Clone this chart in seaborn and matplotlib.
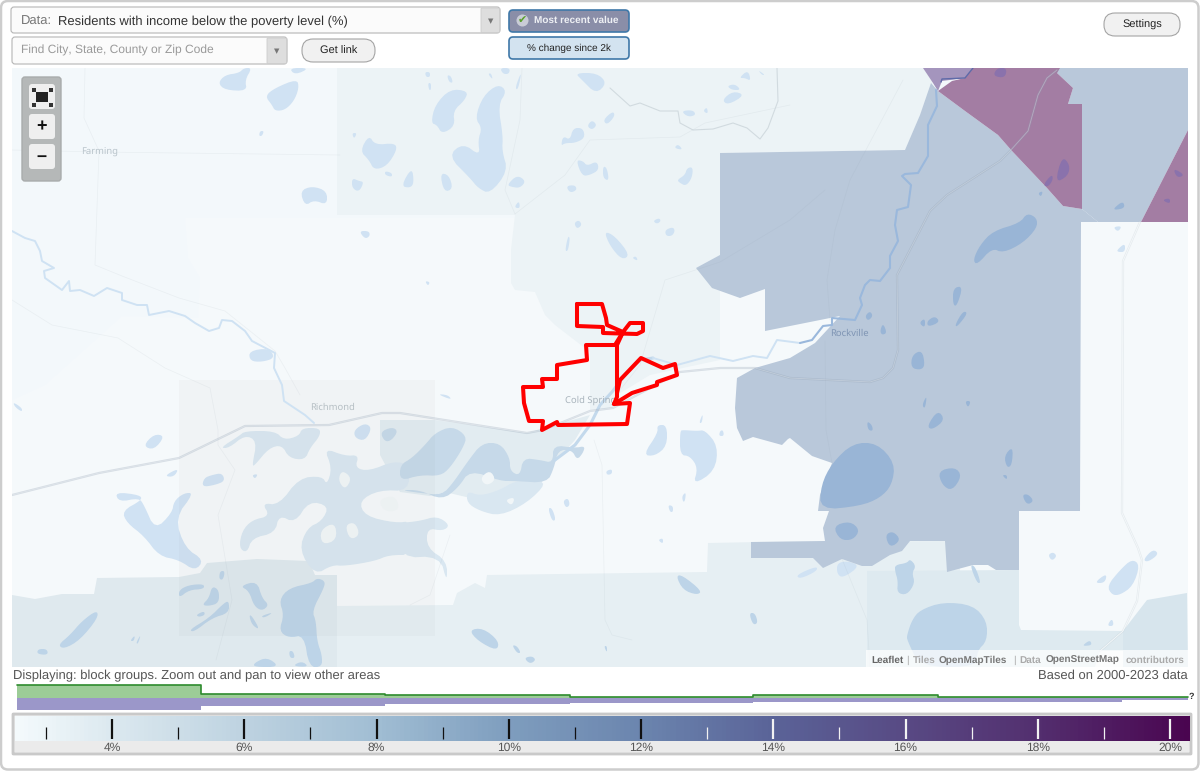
import numpy as np
import pandas as pd
import matplotlib
matplotlib.use("Agg")
import matplotlib.pyplot as plt
from matplotlib.colors import LinearSegmentedColormap
from matplotlib.patches import FancyBboxPatch, Rectangle
import seaborn as sns

# ---------- chart values ----------
scale_stops = [2.52, 4, 6, 8, 10, 12, 14, 16, 18, 20.3]
scale_colors = ["#f4fafc", "#dbe8ef", "#bdd2e0", "#a0bdd3", "#7e9dbe", "#6b85ae", "#5a6398", "#584a84", "#532f6f", "#4a0550"]
major_ticks = [4, 6, 8, 10, 12, 14, 16, 18, 20]
minor_ticks = [3, 5, 7, 9, 11, 13, 15, 17, 19]
hist_edges = [2.565, 5.346, 8.128, 10.926, 13.693, 16.49, 19.27, 20.27]
hist_green = [13, 4, 3, 0.6, 3, 1.5, 1.3]
hist_purple = [12, 8, 6.3, 5, 3.7, 3.7, 2]

title_text = "Residents with income below the poverty level (%)"

# ---------- geography (map outline vertices) ----------
region_pale = [(185,218),(188,258),(200,278),(198,318),(122,316),(45,385),(12,400),(12,667),(1188,667),(1188,218)]
region_north = [(337,68),(923,68),(933,83),(920,115),(905,150),(720,153),(720,360),(650,375),(617,395),(612,408),(590,410),(590,352),(555,325),(545,315),(535,292),(515,290),(511,283),(511,250),(515,215),(337,215)]
region_south_left = [(12,595),(35,599),(62,594),(94,594),(97,578),(179,577),(200,573),(207,563),(257,559),(309,561),(315,575),(337,575),(337,667),(12,667)]
region_south_mid = [(337,606),(453,605),(457,593),(475,583),(485,588),(487,575),(707,572),(708,543),(760,542),(960,541),(960,571),(868,571),(868,667),(337,667)]
region_band = [(867,571),(1019,570),(1019,625),(1021,630),(1123,631),(1123,651),(1100,651),(1095,667),(867,667)]
region_corner = [(1123,631),(1147,600),(1187,593),(1188,667),(1123,667)]
region_chain = [(380,420),(435,420),(527,433),(590,415),(575,440),(555,462),(540,485),(500,505),(445,492),(430,496),(400,492),(380,455)]
region_dark = [(720,153),(905,150),(920,115),(931,83),(938,91),(965,111),(998,135),(1012,151),(1047,188),(1063,206),(1082,209),(1098,222),(1081,222),(1080,511),(1019,511),(1019,570),(996,570),(988,565),(973,565),(947,572),(945,541),(910,541),(902,551),(890,555),(872,566),(862,566),(842,559),(823,568),(813,558),(751,558),(751,542),(825,541),(823,528),(829,511),(818,511),(820,495),(832,463),(812,456),(790,438),(788,439),(782,445),(753,437),(743,441),(737,428),(735,408),(737,378),(755,368),(790,358),(815,343),(840,316),(765,331),(765,289),(740,298),(712,288),(696,268),(720,255)]
region_dark_ne = [(1057,68),(1188,68),(1188,130),(1141,222),(1098,222),(1082,209),(1082,104),(1068,104),(1073,88),(1057,73)]
region_purple = [(973,68),(1060,68),(1057,73),(1073,88),(1068,104),(1082,104),(1082,209),(1063,206),(1047,188),(1012,151),(998,135),(965,111),(938,91),(952,81),(965,78)]
region_purple_far = [(1141,222),(1188,130),(1188,222)]
region_mauve = [(923,68),(973,68),(965,78),(942,81),(938,91),(933,83)]
overlay_block = [(179,380),(435,380),(435,636),(179,636)]

lakes_light = [
 [(218,83),(225,75),(239,73),(244,68),(252,68),(245,80),(247,91),(225,90)],
 [(265,96),(275,88),(297,79),(299,88),(294,101),(285,110),(275,111),(272,105)],
 [(289,68),(295,75),(310,68)],
 [(260,131),(264,131),(262,136),(259,136)],
 [(300,191),(312,186),(327,191),(327,205),(314,200),(305,206)],
 [(360,151),(369,135),(375,145),(395,143),(397,150),(387,166),(374,170),(369,160)],
 [(352,178),(359,181),(364,182),(359,192),(352,188)],
 [(385,171),(392,173),(392,177),(385,175)],
 [(359,231),(369,231),(370,236),(365,239)],
 [(352,133),(357,133),(354,139)],
 [(431,123),(435,105),(450,89),(468,91),(465,100),(453,111),(455,126),(442,134),(437,125)],
 [(475,118),(483,96),(498,84),(507,91),(498,105),(503,136),(502,151),(508,171),(490,194),(478,188),(470,178),(448,156),(463,143),(480,156),(478,140),(482,128)],
 [(401,186),(412,167),(414,183),(410,188)],
 [(440,173),(449,175),(453,189),(444,192)],
 [(507,185),(517,175),(526,181),(520,188),(512,187)],
 [(575,73),(597,73),(607,83),(596,94),(582,80)],
 [(515,88),(522,70),(518,90)],
 [(447,75),(451,76),(453,83),(449,82)],
 [(425,72),(430,72),(430,77),(426,77)],
 [(428,83),(431,83),(431,90),(429,90)],
 [(488,74),(491,73),(493,80)],
 [(500,68),(510,68),(509,74),(503,74)],
 [(561,146),(563,136),(570,140),(573,128),(583,128),(585,138),(575,143),(565,143)],
 [(587,126),(592,120),(597,125),(592,130)],
 [(603,120),(613,111),(615,116),(607,125)],
 [(576,160),(583,161),(587,166),(597,161),(599,170),(590,175),(582,176)],
 [(603,166),(607,168),(609,181),(603,178)],
 [(566,186),(575,185),(577,190),(570,193)],
 [(677,180),(685,175),(687,168),(693,167),(692,178),(686,186),(680,183)],
 [(674,148),(678,144),(683,150)],
 [(681,111),(693,110),(696,115),(688,117)],
 [(722,100),(733,91),(745,95),(728,105)],
 [(727,86),(735,84),(741,90),(732,90)],
 [(739,78),(748,70),(751,81),(745,78)],
 [(703,111),(707,107),(708,114)],
 [(758,70),(765,75),(762,75)],
 [(653,221),(659,218),(661,221),(657,224)],
 [(665,230),(673,227),(675,231),(672,236),(666,236)],
 [(574,223),(579,220),(582,225),(577,229)],
 [(565,251),(568,236),(570,238),(568,251)],
 [(604,231),(615,236),(630,255),(622,260),(610,246)],
 [(632,258),(636,256),(638,261)],
 [(425,281),(430,282),(428,286)],
 [(515,206),(519,201),(520,208),(516,208)],
 [(143,446),(154,434),(165,436),(154,450)],
 [(164,476),(179,468),(174,477)],
 [(204,478),(212,475),(222,473),(225,481),(215,485),(202,487)],
 [(354,430),(365,423),(372,428),(365,441),(355,438)],
 [(252,475),(258,474),(255,479)],
 [(115,492),(140,495),(142,500),(122,511),(127,523),(144,536),(159,556),(179,560),(195,571),(204,560),(185,548),(175,518),(194,493),(184,493),(174,501),(172,513),(155,530),(144,505),(139,498),(119,502)],
 [(13,402),(22,408),(22,412),(15,407)],
 [(249,351),(269,348),(275,358),(262,362),(250,361)],
 [(437,394),(448,395),(452,400)],
 [(643,455),(658,433),(657,425),(667,425),(667,446),(655,456)],
 [(680,431),(683,430),(697,431),(705,430),(718,446),(715,471),(693,485),(698,468),(690,456),(680,455)],
 [(699,423),(703,413),(702,423)],
 [(720,431),(723,430),(724,436),(719,436)],
 [(563,501),(568,498),(570,505),(566,508)],
 [(548,508),(552,508),(556,520),(552,521)],
 [(606,471),(612,469),(612,474),(607,475)],
 [(668,505),(673,506),(673,512),(670,512)],
 [(682,496),(686,492),(685,501),(683,502)],
 [(658,540),(663,538),(663,544)],
 [(1048,555),(1053,552),(1057,556),(1052,561)],
 [(1107,586),(1120,570),(1132,559),(1140,565),(1133,586),(1120,595),(1112,595)],
 [(1094,583),(1107,573),(1105,583)],
 [(1143,560),(1153,549),(1159,554),(1148,562)],
 [(1107,626),(1112,618),(1114,626)],
 [(1113,227),(1122,226),(1118,232)],
 [(1117,250),(1125,243),(1125,252),(1118,252)],
 [(796,575),(817,566),(817,571),(800,579)],
 [(837,563),(848,561),(860,566),(843,578),(837,574)],
]
lakes_chain = [
 [(220,448),(239,436),(245,431),(275,431),(284,440),(299,436),(302,428),(320,428),(320,436),(310,448),(305,460),(289,458),(282,445),(269,448),(255,465),(252,466),(257,441),(245,435),(229,448)],
 [(239,548),(242,531),(252,520),(270,516),(262,503),(279,505),(299,478),(322,476),(327,485),(332,468),(324,448),(345,456),(359,455),(355,468),(369,471),(394,461),(409,465),(409,491),(379,490),(359,501),(365,516),(395,523),(412,521),(412,555),(389,555),(375,561),(345,566),(332,565),(315,575),(299,550),(307,528),(322,521),(329,506),(309,501),(295,523),(279,515),(275,533),(252,538),(247,553)],
 [(400,523),(420,521),(437,516),(450,525),(443,531),(427,528),(427,548),(447,561),(447,583),(440,556),(400,558)],
 [(467,491),(480,496),(500,490),(515,481),(533,481),(547,483),(527,503),(500,516),(480,511),(467,503)],
]
lakes_chain_band = [
 [(380,432),(392,427),(398,431),(392,440),(385,442)],
 [(435,433),(452,426),(467,436),(463,448),(450,468),(440,476),(420,475),(400,481),(400,465),(412,458),(425,445)],
 [(400,490),(420,493),(442,495),(453,483),(468,461),(482,443),(500,443),(510,458),(510,471),(520,476),(523,458),(540,460),(553,463),(553,445),(575,448),(585,446),(583,453),(577,460),(572,450),(558,450),(554,468),(547,483),(515,481),(500,481),(470,470),(458,488),(442,500),(420,490)],
]
islands = [
 [(320,530),(335,522),(337,540),(322,545)],
 [(345,525),(355,522),(360,535),(350,540)],
 [(378,500),(395,495),(400,510),(385,512)],
 [(342,470),(352,478),(345,490),(338,480)],
 [(480,478),(490,470),(496,480),(486,486)],
 [(505,500),(515,497),(512,506)],
]
lakes_band = [
 [(179,590),(189,585),(204,584),(204,589),(189,590),(179,598)],
 [(202,605),(209,598),(212,586),(219,590),(219,603),(209,606)],
 [(189,630),(209,618),(224,603),(229,601),(229,613),(212,618),(194,632)],
 [(196,615),(204,611),(205,615),(199,617)],
 [(240,586),(257,581),(262,598),(269,605),(262,611),(254,606),(249,591)],
 [(249,615),(252,616),(260,630),(252,625)],
 [(261,616),(274,612),(264,618)],
 [(220,571),(225,571),(223,580),(219,579)],
 [(279,600),(289,588),(312,583),(317,578),(325,581),(324,588),(312,611),(316,621),(317,641),(322,655),(322,667),(309,667),(304,635),(289,638),(279,631),(284,615)],
 [(254,663),(267,657),(280,667),(254,667)],
 [(292,666),(302,661),(309,667)],
 [(289,651),(293,651),(295,658),(290,658)],
 [(97,610),(98,618),(80,640),(64,649),(58,645),(70,635),(82,621)],
 [(38,649),(47,649),(48,655),(37,654)],
 [(130,641),(135,635),(134,641)],
 [(136,643),(141,634),(138,644)],
 [(676,576),(682,575),(702,591),(697,595),(683,590)],
 [(749,613),(755,613),(758,623),(753,625)],
 [(469,630),(483,628),(499,641),(497,651),(478,641)],
 [(512,645),(517,646),(521,653),(517,653)],
 [(524,658),(532,656),(536,660),(530,664)],
 [(604,646),(607,646),(607,653)],
 [(895,565),(907,563),(910,559),(916,566),(912,573),(915,583),(907,595),(897,593),(898,581),(895,571)],
 [(970,565),(975,566),(981,583),(977,583)],
 [(907,635),(912,620),(920,610),(943,602),(973,605),(987,621),(987,641),(977,651),(977,667),(920,667),(907,640)],
 [(1083,645),(1090,640),(1092,645),(1085,646)],
]
lakes_dark = [
 [(821,485),(832,463),(853,443),(877,443),(895,463),(892,485),(880,498),(860,506),(820,510)],
 [(833,526),(850,521),(860,530),(853,540),(840,540)],
 [(885,535),(893,531),(901,540),(890,548)],
 [(938,471),(955,467),(962,476),(952,491),(942,485)],
 [(1004,456),(1013,446),(1012,465),(1007,468)],
 [(927,426),(938,410),(945,420),(932,430)],
 [(922,405),(927,395),(925,409)],
 [(965,401),(971,401),(968,408)],
 [(867,421),(872,425),(873,431),(868,430)],
 [(1022,495),(1028,494),(1034,501),(1027,505)],
 [(1002,475),(1007,475),(1007,480)],
 [(973,260),(980,245),(993,231),(1020,223),(1027,213),(1037,218),(1037,228),(1023,243),(1003,253),(992,248),(977,265)],
 [(953,288),(963,286),(957,306),(953,305)],
 [(955,325),(963,311),(968,313),(957,327)],
 [(927,321),(935,316),(940,322),(928,327)],
 [(919,323),(925,318),(925,328)],
 [(865,316),(870,311),(873,316),(868,321)],
 [(880,331),(883,323),(887,333),(882,335)],
 [(911,368),(912,355),(922,350),(925,365),(921,370)],
 [(1114,208),(1123,201),(1125,208),(1115,210)],
 [(1038,193),(1043,191),(1041,197)],
]
lakes_purple = [
 [(1055,183),(1062,156),(1070,165),(1068,176)],
 [(1043,185),(1052,174),(1053,180),(1048,187)],
 [(993,76),(997,68),(1007,68),(1005,78)],
 [(1173,168),(1185,175),(1177,178)],
 [(1162,200),(1170,198),(1170,204)],
]
river_west = [(12,231),(25,238),(35,241),(40,251),(42,261),(54,268),(44,271),(45,278),(62,290),(69,281),(70,291),(80,290),(94,296),(107,288),(122,293),(122,300),(137,305),(147,305),(149,315),(169,311),(185,316),(195,323),(209,331),(219,328),(222,320),(232,321),(245,331),(252,341),(275,353),(274,368),(282,385),(284,401),(305,415),(314,423)]
river_town = [(555,460),(575,445),(590,425),(600,405),(612,392),(625,375),(640,360),(653,358)]
river_east_light = [(653,358),(677,365),(710,356),(733,361),(753,356),(767,358),(777,340),(800,343)]
river_east_dark = [(800,343),(812,340),(823,326),(832,325),(832,318),(855,320),(862,305),(860,298),(865,285),(870,280),(880,281),(890,268),(890,256),(898,241),(895,225),(897,210),(908,207),(911,185),(902,176),(905,174),(918,173),(928,156),(928,125),(937,106),(936,90)]
river_north_dark = [(941,82),(942,79),(965,78),(973,68)]
highway_main = [(12,495),(99,473),(179,458),(245,426),(329,425),(382,413),(400,413),(527,433),(543,430),(590,411),(613,408),(680,372),(720,368),(755,368),(790,378),(870,382),(883,378),(893,368),(898,350),(897,275),(930,211),(947,195),(1000,161),(1010,151),(1028,131),(1038,95),(1047,78),(1057,70)]
highway_east = [(1140,222),(1123,261),(1122,513),(1138,548),(1142,560),(1137,601),(1123,631),(1100,651)]
county_line = [(610,88),(630,106),(640,103),(660,111),(678,111),(680,123),(693,130),(713,129),(733,123),(747,128),(760,139),(768,128),(778,101),(777,68)]
thin_roads = [
 [(85,68),(84,118),(99,151),(95,265),(122,276),(179,298),(225,311),(275,351),(285,368),(300,395)],
 [(12,150),(99,152),(340,155)],
 [(12,300),(52,325),(118,338),(165,368),(210,388),(218,430),(218,445),(235,470),(218,515),(232,600),(216,660)],
 [(515,214),(565,175),(590,140),(680,137),(705,123),(790,105)],
 [(515,214),(505,190),(520,120),(522,68)],
 [(594,440),(602,465),(605,620),(612,635),(632,640)],
 [(620,390),(640,365),(665,280),(720,262),(790,220),(825,190)],
 [(450,535),(430,595),(410,605)],
 [(903,80),(850,180),(835,230),(827,280),(830,320)],
 [(825,341),(826,430),(832,463)],
 [(842,559),(867,620),(870,667)],
]
# boundary outline of the study area
outline_north = [(577,304),(602,304),(606,318),(607,325),(623,332),(630,323),(643,323),(643,331),(637,334),(603,333),(603,327),(577,326),(577,304)]
outline_town = [(623,332),(615,345),(586,345),(587,360),(557,365),(557,379),(542,379),(543,387),(523,387),(524,403),(529,421),(543,421),(542,430),(557,422),(558,425),(627,424),(630,403),(614,404),(617,397),(617,345),(623,332)]
outline_east = [(617,393),(620,380),(641,358),(663,368),(675,364),(677,375),(657,382),(657,385),(632,393),(614,404)]

place_labels = ["Farming", "Richmond", "Cold Spring", "Rockville"]
place_x = [100, 332, 591, 849]
place_y = [155, 410, 403, 336]
place_colors = ["#b9c4cb", "#b6bfc4", "#aab5bd", "#7f95b4"]

# ---------- figure ----------
sns.set_theme(style="white")
plt.rcParams["font.family"] = ["Liberation Sans", "DejaVu Sans"]
plt.rcParams["text.hinting"] = "none"
plt.rcParams["text.hinting_factor"] = 1
W, H = 1200, 771
fig = plt.figure(figsize=(W / 100, H / 100), dpi=100, facecolor="white")


def axes_px(x0, y0, x1, y1, z=1):
    a = fig.add_axes([x0 / W, 1 - y1 / H, (x1 - x0) / W, (y1 - y0) / H], zorder=z)
    a.set_axis_off()
    return a


def rounded(p, n=2):
    q = np.asarray(p, float)
    for _ in range(n):
        nxt = np.roll(q, -1, axis=0)
        q = np.column_stack([0.75 * q + 0.25 * nxt, 0.25 * q + 0.75 * nxt]).reshape(-1, 2)
    return q


def fill_all(ax, polys, color, z, alpha=None, smooth=False):
    for p in polys:
        q = rounded(p) if smooth else np.asarray(p, float)
        ax.fill(q[:, 0], q[:, 1], color=color, lw=0, zorder=z, alpha=alpha)


def trace(ax, pts, color, lw, z, alpha=1.0):
    frame = pd.DataFrame(pts, columns=["x", "y"])
    sns.lineplot(data=frame, x="x", y="y", sort=False, estimator=None, color=color, lw=lw,
                 zorder=z, alpha=alpha, ax=ax, legend=False)
    ax.set_xlabel("")
    ax.set_ylabel("")


# ---------- map ----------
ax = axes_px(12, 68, 1188, 667, 2)
ax.add_patch(Rectangle((12, 68), 1176, 599, color="#f3f8fb", lw=0, zorder=0))
fill_all(ax, [region_pale], "#f5f9fb", 1)
fill_all(ax, [region_north], "#ecf3f6", 2)
fill_all(ax, [region_south_left], "#dfe9ee", 2)
fill_all(ax, [region_south_mid], "#e6eff3", 2)
fill_all(ax, [region_band], "#deeaf0", 2.2)
fill_all(ax, [region_corner], "#d7e5ed", 2.2)
fill_all(ax, [region_chain], "#e2ecf1", 2.2)
fill_all(ax, lakes_light, "#d0e2f3", 3, smooth=True)
fill_all(ax, lakes_chain, "#d9e7f1", 3, smooth=True)
fill_all(ax, lakes_chain_band, "#c6d9e9", 3.1, smooth=True)
fill_all(ax, islands, "#f1f6f8", 3.2, smooth=True)
fill_all(ax, lakes_band, "#bdd4e8", 3, smooth=True)
fill_all(ax, [region_dark, region_dark_ne], "#b9c8da", 4)
fill_all(ax, [region_purple, region_purple_far], "#a37da3", 4)
fill_all(ax, [region_mauve], "#a495bd", 4)
fill_all(ax, lakes_dark, "#99b5d6", 5, smooth=True)
fill_all(ax, lakes_purple, "#8a72ac", 5, smooth=True)
fill_all(ax, [overlay_block], "#777777", 5.5, alpha=0.04)

trace(ax, river_west, "#cfe2f3", 1.4, 6)
trace(ax, river_town, "#c3d9ec", 2.2, 6)
trace(ax, river_east_light, "#cfe2f3", 1.4, 6)
trace(ax, river_east_dark, "#9ab8dc", 1.5, 6)
trace(ax, river_north_dark, "#5e6aa8", 1.0, 6)
for r in thin_roads:
    trace(ax, r, "#8a9aa5", 0.5, 5.8, alpha=0.1)
trace(ax, county_line, "#c6d0d6", 0.8, 5.8, alpha=0.7)
trace(ax, highway_main, "#8f9fb2", 1.6, 6.5, alpha=0.3)
trace(ax, highway_main, "#f4f8fa", 0.6, 6.6, alpha=0.3)
trace(ax, highway_east, "#b9c4cb", 1.6, 6.5, alpha=0.25)
trace(ax, highway_east, "#f5f9fb", 0.6, 6.6)
for n, px, py, c in zip(place_labels, place_x, place_y, place_colors):
    ax.text(px, py, n, ha="center", va="baseline", fontsize=6.8, color=c, family="Noto Sans", zorder=7)
for o in (outline_north, outline_town, outline_east):
    trace(ax, o, "#ff0000", 2.9, 8)
ax.set_xlim(12, 1188)
ax.set_ylim(667, 68)

# attribution strip
ax.add_patch(Rectangle((866, 650), 322, 17, color="white", alpha=0.72, lw=0, zorder=9))
attr_parts = [("Leaflet", 871, "#666666", "bold"), ("|", 906, "#aaaaaa", "normal"), ("Tiles", 913, "#aaaaaa", "bold"),
              ("OpenMapTiles", 939, "#777777", "bold"), ("|", 1013, "#aaaaaa", "normal"), ("Data", 1019, "#aaaaaa", "bold"),
              ("OpenStreetMap", 1046, "#777777", "bold"), ("contributors", 1126, "#aaaaaa", "bold")]
for s, px, c, w in attr_parts:
    ax.text(px, 663, s, fontsize=7.4, color=c, weight=w, va="baseline", zorder=10)

# ---------- interface ----------
ui = axes_px(0, 0, W, H, 5)
ui.set_xlim(0, W)
ui.set_ylim(H, 0)
ui.patch.set_alpha(0)


def box(x0, y0, x1, y1, fc, ec, lw=1.0, r=3, z=1, alpha=None):
    p = FancyBboxPatch((x0 + r, y0 + r), x1 - x0 - 2 * r, y1 - y0 - 2 * r,
                       boxstyle=f"round,pad={r},rounding_size={r}", fc=fc, ec=ec, lw=lw, zorder=z, alpha=alpha)
    ui.add_patch(p)


# page frame
box(1, 1, 1198.5, 769.5, "none", "#cdcdcd", 1.8, r=7, z=0.5)

# data selector
box(11, 7, 500, 33, "#fbfbfb", "#b5b5b5", lw=0.8, r=3)
box(481, 8, 499.5, 32.5, "#dedede", "#cccccc", lw=0.6, r=1, z=1.1)
ui.text(491, 21, "▼", fontsize=5, color="#777777", ha="center", va="center", family="DejaVu Sans", zorder=2)
ui.text(21, 25, "Data:", fontsize=9.65, color="#777777", va="baseline", zorder=2)
ui.text(58, 25, title_text, fontsize=9.65, color="#333333", va="baseline", zorder=2)

# search box
box(12, 37, 287, 64, "#fbfbfb", "#b5b5b5", lw=0.8, r=3)
box(267, 38, 286.5, 63.5, "#dedede", "#cccccc", lw=0.6, r=1, z=1.1)
ui.text(277, 51, "▼", fontsize=5, color="#777777", ha="center", va="center", family="DejaVu Sans", zorder=2)
ui.text(21, 54, "Find City, State, County or Zip Code", fontsize=8.6, color="#9a9a9a", va="baseline", zorder=2)

# buttons
box(302, 39, 375, 62, "#f1f1f1", "#a5a5a5", lw=0.8, r=11)
ui.text(338.5, 54, "Get link", fontsize=7.8, color="#222222", ha="center", va="baseline", zorder=2)
box(1104, 13, 1180, 36, "#f1f1f1", "#a5a5a5", lw=0.8, r=11)
ui.text(1142, 28, "Settings", fontsize=8, color="#222222", ha="center", va="baseline", zorder=2)
box(509, 10, 629, 32, "#8a8ea8", "#3f78a8", lw=1.2, r=4)
ui.text(576, 23, "Most recent value", fontsize=7.2, color="#eef0f4", weight="bold", ha="center", va="baseline", zorder=2)
ui.scatter([522], [20], s=75, color="#c9ccd6", lw=0, zorder=2)
ui.text(522, 20, "✔", fontsize=8, color="#5aa02c", ha="center", va="center", family="DejaVu Sans", zorder=3)
box(509, 37, 629, 59, "#d3e3f0", "#3f78a8", lw=1.2, r=4)
ui.text(569, 51, "% change since 2k", fontsize=7.0, color="#222222", ha="center", va="baseline", zorder=2)

# zoom control
box(22, 77, 61, 181, "#b5b8b8", "#a9acac", r=3, z=3)
for by in (84, 114, 144):
    box(29, by, 55, by + 25, "#efefef", "none", lw=0, r=3, z=3.1)
ui.add_patch(Rectangle((36, 92), 12, 10, color="#222222", lw=0, zorder=3.2))
ui.scatter([33.5, 50.5, 33.5, 50.5], [89.5, 89.5, 105, 105], s=7, marker="s", color="#333333", lw=0, zorder=3.2)
ui.text(41.5, 126.5, "+", fontsize=13, weight="bold", color="#111111", ha="center", va="center", zorder=3.2)
ui.text(41.5, 156, "–", fontsize=13, weight="bold", color="#111111", ha="center", va="center", zorder=3.2)

# captions
ui.text(13, 679, "Displaying: block groups. Zoom out and pan to view other areas", fontsize=9.27, color="#555555", va="baseline")
ui.text(1188, 679, "Based on 2000-2023 data", fontsize=9.35, color="#555555", va="baseline", ha="right")

# ---------- distribution strip ----------
vmin, vmax = scale_stops[0], scale_stops[-1]
val_to_px = 66.13
left_px = 112 - (4 - vmin) * val_to_px
right_px = 112 + (vmax - 4) * val_to_px
hx = axes_px(left_px, 684, right_px, 712, 6)
hx.set_xlim(vmin, vmax)
hx.set_ylim(-14, 14)
hx.fill_between(hist_edges, [0] * 8, hist_green + hist_green[-1:], step="post", color="#9ccc97", lw=0)
hx.fill_between(hist_edges, [0] * 8, [-v for v in hist_purple] + [-hist_purple[-1]], step="post", color="#9b97c9", lw=0)
step_frame = pd.DataFrame({"v": hist_edges, "h": hist_green + hist_green[-1:]})
sns.lineplot(data=step_frame, x="v", y="h", drawstyle="steps-post", color="#2e8b2e", lw=1.2, ax=hx, legend=False)
hx.set_xlabel("")
hx.set_ylabel("")
hx.set_axis_off()
ui.text(1191, 697, "?", fontsize=6.5, weight="bold", color="#333333", ha="center", va="center")

# ---------- colour scale ----------
box(13, 714, 1191, 754, "#ebebeb", "#c9c9c9", lw=2.0, r=0.5, z=1)
cb = axes_px(14.5, 716, 1190, 741, 7)
cmap = LinearSegmentedColormap.from_list(
    "poverty", [((s - vmin) / (vmax - vmin), c) for s, c in zip(scale_stops, scale_colors)])
grad = pd.DataFrame([np.linspace(vmin, vmax, 588)])
sns.heatmap(grad, ax=cb, cmap=cmap, vmin=vmin, vmax=vmax, cbar=False, xticklabels=False, yticklabels=False, rasterized=True)
cb.set_axis_off()
tick_ax = axes_px(left_px, 716, right_px, 741, 8)
tick_ax.set_xlim(vmin, vmax)
tick_ax.set_ylim(25, 0)
tick_ax.patch.set_alpha(0)
for t in major_ticks:
    tick_ax.vlines(t, 3, 23, color="#111111" if t <= 12 else "#f2f2f2", lw=1.6)
    ui.text(112 + (t - 4) * val_to_px, 751, f"{t}%", fontsize=8.8, color="#555555", ha="center", va="baseline", zorder=3)
for t in minor_ticks:
    tick_ax.vlines(t, 11, 23, color="#111111" if t <= 12 else "#f2f2f2", lw=0.9)

fig.savefig("out.png", dpi=100, facecolor="white")
